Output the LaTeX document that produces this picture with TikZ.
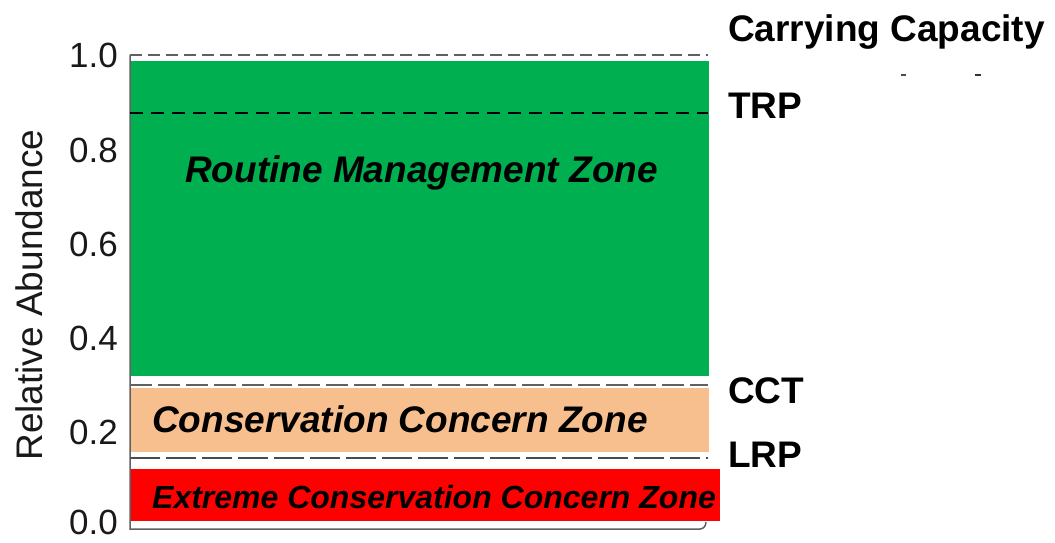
\documentclass[tikz,border=0pt]{standalone}
\usepackage{fontspec}
\setmainfont{Liberation Sans}
\definecolor{zgreen}{HTML}{00B050}
\definecolor{zpeach}{HTML}{F8BF8E}
\definecolor{zred}{HTML}{FF0000}
\definecolor{axisgray}{HTML}{606060}
\begin{document}
\begin{tikzpicture}[x=1pt,y=-1pt,
  lbl/.style={font=\fontsize{37}{40}\selectfont\bfseries, anchor=base west, inner sep=0pt},
  zonetxt/.style={font=\fontsize{37}{40}\selectfont\bfseries\itshape, anchor=base west, inner sep=0pt},
  ticklbl/.style={font=\fontsize{35}{38}\selectfont, text=black!90, anchor=base east, inner sep=0pt},
  refline/.style={dashed, dash pattern=on 13pt off 8pt, line width=2.5pt}]
\useasboundingbox (0,0) rectangle (1055,543);
% zones
\fill[zgreen] (130,61) rectangle (709,376);
\fill[zpeach] (130,388) rectangle (709,452);
\fill[zred] (130,469) rectangle (720,521);
% axes
\draw[axisgray, line width=1.5pt] (130,55) -- (130,529) -- (700,529) to[out=0,in=-90] (706,522);
\draw[axisgray, line width=2pt, dashed, dash pattern=on 12pt off 6pt] (130,55) -- (708,55);
% reference lines
\draw[black, refline] (130,113) -- (708,113);
\draw[axisgray, line width=2pt, dashed, dash pattern=on 22pt off 6pt] (130,385) -- (708,385);
\draw[black!70, line width=2pt, dashed, dash pattern=on 30pt off 6pt] (130,458) -- (708,458);
% tiny marks
\draw[black!70, line width=1.5pt] (901,75) -- (906,75);
\draw[black!80, line width=1.5pt] (975,75) -- (981,75);
% tick labels
\node[ticklbl] (t10) at (118,67) {1.0};
\node[ticklbl] (t08) at (118,162) {0.8};
\node[ticklbl] (t06) at (118,256) {0.6};
\node[ticklbl] (t04) at (118,350) {0.4};
\node[ticklbl] (t02) at (118,444) {0.2};
\node[ticklbl] (t00) at (118,534) {0.0};
% axis title
\node[font=\fontsize{37}{40}\selectfont, text=black!90, rotate=90, anchor=base, inner sep=0pt] (ytitle) at (42,295) {Relative Abundance};
% right labels
\node[lbl] (cc) at (728,42) {Carrying Capacity};
\node[lbl] (trp) at (728,118) {TRP};
\node[lbl] (cct) at (728,403) {CCT};
\node[lbl] (lrp) at (728,467) {LRP};
% zone labels
\node[zonetxt] (rmz) at (185,182) {Routine Management Zone};
\node[zonetxt] (ccz) at (152,432) {Conservation Concern Zone};
\node[zonetxt, font=\fontsize{32}{35}\selectfont\bfseries\itshape] (eccz) at (152,508) {Extreme Conservation Concern Zone};
\end{tikzpicture}
\end{document}
